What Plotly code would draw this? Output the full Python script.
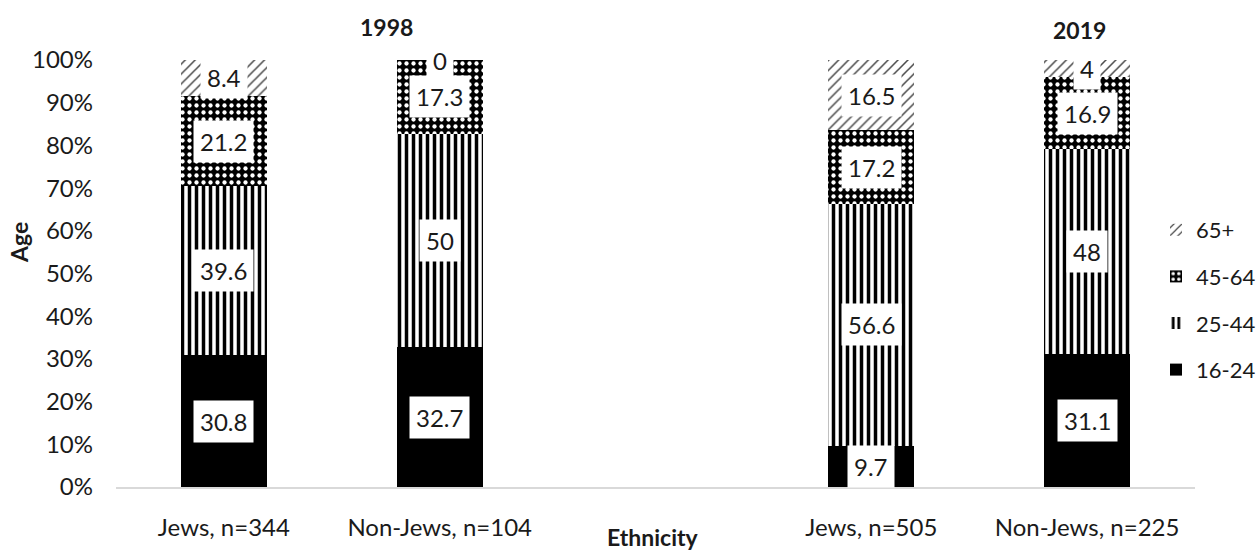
import plotly.graph_objects as go

# ---- data ----
categories = ["Jews, n=344", "Non-Jews, n=104", "Jews, n=505", "Non-Jews, n=225"]
years = ["1998", "2019"]
age_groups = ["16-24", "25-44", "45-64", "65+"]
v_16_24 = [30.8, 32.7, 9.7, 31.1]
v_25_44 = [39.6, 50.0, 56.6, 48.0]
v_45_64 = [21.2, 17.3, 17.2, 16.9]
v_65p = [8.4, 0.0, 16.5, 4.0]
y_ticks = [0, 10, 20, 30, 40, 50, 60, 70, 80, 90, 100]

series = [v_16_24, v_25_44, v_45_64, v_65p]

# blank slot between the two survey years
x_cats = categories[:2] + [" "] + categories[2:]


def with_gap(vals):
    return list(vals[:2]) + [None] + list(vals[2:])


patterns = [
    dict(shape="", fillmode="replace"),
    dict(shape="|", bgcolor="white", fgcolor="black", size=7, solidity=0.5, fillmode="replace"),
    dict(shape=".", bgcolor="black", fgcolor="white", size=7, solidity=0.3, fillmode="replace"),
    dict(shape="/", bgcolor="white", fgcolor="#4a4a4a", size=7, solidity=0.22, fillmode="replace"),
]
colors = ["black", "white", "black", "white"]

FONT = "Lato, 'Open Sans', sans-serif"
TXT = "#1a1a1a"

fig = go.Figure()
for i, (name, vals, pat, col) in enumerate(zip(age_groups, series, patterns, colors)):
    fig.add_trace(go.Bar(
        x=x_cats, y=with_gap(vals), name=name,
        marker=dict(color=col, line=dict(width=0), pattern=pat),
        legendgroup=name, legendrank=len(age_groups) - i, hoverinfo="skip",
    ))

annotations = []
# data labels (white boxes) at segment centres
base = [0.0] * len(categories)
for vals in series:
    for j, v in enumerate(vals):
        annotations.append(dict(
            x=categories[j], y=base[j] + v / 2, xref="x", yref="y",
            xanchor="center", yanchor="middle",
            text=f"{v:g}", showarrow=False, bgcolor="white", borderpad=6,
            font=dict(family=FONT, size=24, color=TXT),
        ))
        base[j] += v


def px_x(px):
    return (px - 116) / 1079


def px_y(py):
    return (487 - py) / 427


common = dict(xref="paper", yref="paper", xanchor="center", yanchor="middle", showarrow=False)
# year headers
annotations.append(dict(x=px_x(386), y=px_y(27), text="<b>" + years[0] + "</b>",
                        font=dict(family=FONT, size=23, color=TXT), **common))
annotations.append(dict(x=px_x(1079), y=px_y(30), text="<b>" + years[1] + "</b>",
                        font=dict(family=FONT, size=23, color=TXT), **common))
# axis titles
annotations.append(dict(x=px_x(19), y=px_y(243), text="<b>Age</b>", textangle=-90,
                        font=dict(family=FONT, size=23, color=TXT), **common))
annotations.append(dict(x=px_x(653), y=px_y(537), text="<b>Ethnicity</b>",
                        font=dict(family=FONT, size=23, color=TXT), **common))

fig.update_layout(
    width=1257, height=550, autosize=False,
    margin=dict(l=116, r=62, t=60, b=63, pad=0, autoexpand=False),
    paper_bgcolor="white", plot_bgcolor="white",
    barmode="stack", bargap=0.6,
    font=dict(family=FONT, size=24, color=TXT),
    xaxis=dict(type="category", categoryorder="array", categoryarray=x_cats, range=[-0.5, 4.5],
               showline=True, linecolor="#d9d9d9", linewidth=1.5, showgrid=False, ticks="",
               tickfont=dict(family=FONT, size=24, color=TXT), ticklabelstandoff=18, fixedrange=True,
               automargin=False),
    yaxis=dict(range=[0, 100], tickmode="array", tickvals=y_ticks,
               ticktext=[f"{t}%" for t in y_ticks], showgrid=False, zeroline=False,
               showline=False, ticks="", tickfont=dict(family=FONT, size=24, color=TXT),
               ticklabelstandoff=22, fixedrange=True, automargin=False),
    legend=dict(xref="container", x=1156 / 1257, xanchor="left",
                yref="container", y=(550 - 300) / 550, yanchor="middle", traceorder="grouped",
                tracegroupgap=15, font=dict(family=FONT, size=22, color=TXT), bgcolor="rgba(0,0,0,0)",
                borderwidth=0, itemclick=False),
    annotations=annotations,
    showlegend=True,
)

fig.write_html("out.html")
